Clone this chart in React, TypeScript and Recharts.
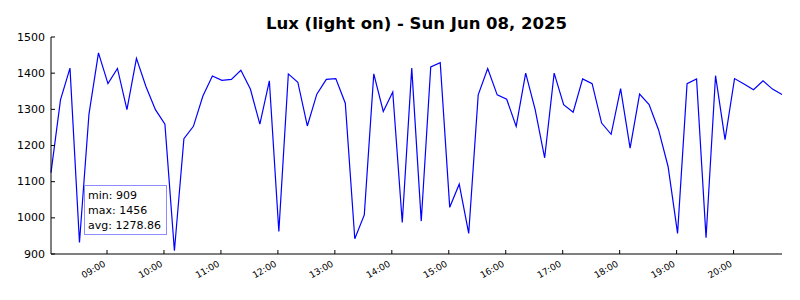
import { LineChart, Line, XAxis, YAxis } from 'recharts'

// 10-minute samples starting 08:01, minutes since midnight
const START_MIN = 481
const STEP_MIN = 10

const luxValues = [
  1125, 1326, 1414, 932, 1287, 1456, 1371, 1413, 1299, 1441,
  1363, 1299, 1259, 909, 1219, 1253, 1337, 1392, 1380, 1383,
  1408, 1356, 1259, 1379, 962, 1398, 1375, 1254, 1342, 1383,
  1385, 1317, 942, 1008, 1398, 1294, 1348, 987, 1414, 991,
  1417, 1429, 1029, 1093, 957, 1340, 1413, 1340, 1328, 1253,
  1400, 1299, 1166, 1400, 1313, 1292, 1384, 1371, 1262, 1231,
  1357, 1193, 1342, 1313, 1243, 1142, 957, 1371, 1384, 945,
  1393, 1216, 1385, 1370, 1354, 1379, 1356, 1341,
]

const hourTicks = [540, 600, 660, 720, 780, 840, 900, 960, 1020, 1080, 1140, 1200]
const luxTicks = [900, 1000, 1100, 1200, 1300, 1400, 1500]

const stats = { min: '909', max: '1456', avg: '1278.86' }

const data = luxValues.map((v, i) => ({ t: START_MIN + i * STEP_MIN, lux: v }))

const FONT = '"DejaVu Sans", sans-serif'

const fmtTime = (m: number) =>
  `${String(Math.floor(m / 60)).padStart(2, '0')}:${String(m % 60).padStart(2, '0')}`

function BottomTick({ x, y, payload }: any) {
  return (
    <g>
      <line x1={x} y1={y} x2={x} y2={y - 4} stroke="#000" />
      <text
        transform={`translate(${x - 4},${y + 6}) rotate(-30)`}
        textAnchor="end"
        dominantBaseline="hanging"
        fontSize={9}
        fontFamily={FONT}
        fill="#000"
      >
        {fmtTime(payload.value)}
      </text>
    </g>
  )
}

function TopTick({ x, y }: any) {
  return <line x1={x} y1={y} x2={x} y2={y + 4} stroke="#000" />
}

function LeftTick({ x, y, payload }: any) {
  return (
    <g>
      <line x1={x} y1={y} x2={x + 4} y2={y} stroke="#000" />
      <text
        x={x - 6}
        y={y}
        textAnchor="end"
        dominantBaseline="central"
        fontSize={11}
        fontFamily={FONT}
        fill="#000"
      >
        {payload.value}
      </text>
    </g>
  )
}

function RightTick({ x, y }: any) {
  return <line x1={x} y1={y} x2={x - 4} y2={y} stroke="#000" />
}

export default function App() {
  return (
    <div style={{ position: 'absolute', left: 0, top: 0, width: 800, height: 300, background: '#fff' }}>
      <div
        style={{
          position: 'absolute',
          left: 51,
          top: 16,
          width: 731,
          textAlign: 'center',
          fontFamily: FONT,
          fontWeight: 'bold',
          fontSize: 16.5,
          lineHeight: '16px',
          color: '#000',
        }}
      >
        Lux (light on) - Sun Jun 08, 2025
      </div>
      <LineChart width={800} height={300} data={data} margin={{ top: 37, right: 18, bottom: 0, left: 0 }}>
        <XAxis
          dataKey="t"
          type="number"
          domain={[START_MIN, START_MIN + (luxValues.length - 1) * STEP_MIN]}
          ticks={hourTicks}
          interval={0}
          height={46}
          tickSize={0}
          tickMargin={0}
          tickLine={false}
          axisLine={{ stroke: '#000' }}
          tick={<BottomTick />}
        />
        <XAxis
          xAxisId="top"
          orientation="top"
          dataKey="t"
          type="number"
          domain={[START_MIN, START_MIN + (luxValues.length - 1) * STEP_MIN]}
          ticks={hourTicks}
          interval={0}
          height={0}
          tickSize={0}
          tickMargin={0}
          tickLine={false}
          axisLine={{ stroke: '#000' }}
          tick={<TopTick />}
        />
        <YAxis
          domain={[900, 1500]}
          ticks={luxTicks}
          interval={0}
          width={51}
          tickSize={0}
          tickMargin={0}
          tickLine={false}
          axisLine={{ stroke: '#000' }}
          tick={<LeftTick />}
        />
        <YAxis
          yAxisId="right"
          orientation="right"
          domain={[900, 1500]}
          ticks={luxTicks}
          interval={0}
          width={0}
          tickSize={0}
          tickMargin={0}
          tickLine={false}
          axisLine={{ stroke: '#000' }}
          tick={<RightTick />}
        />
        <Line
          type="linear"
          dataKey="lux"
          stroke="#0000ff"
          strokeWidth={1.2}
          dot={false}
          isAnimationActive={false}
        />
      </LineChart>
      <div
        style={{
          position: 'absolute',
          left: 84,
          top: 185,
          width: 83,
          height: 50,
          boxSizing: 'border-box',
          border: '1px solid #8c8cff',
          background: 'rgba(255,255,255,0.8)',
          padding: '2px 0 0 3px',
          fontFamily: FONT,
          fontSize: 11,
          lineHeight: '15px',
          color: '#000',
          whiteSpace: 'nowrap',
        }}
      >
        <div>min: {stats.min}</div>
        <div>max: {stats.max}</div>
        <div>avg: {stats.avg}</div>
      </div>
    </div>
  )
}
